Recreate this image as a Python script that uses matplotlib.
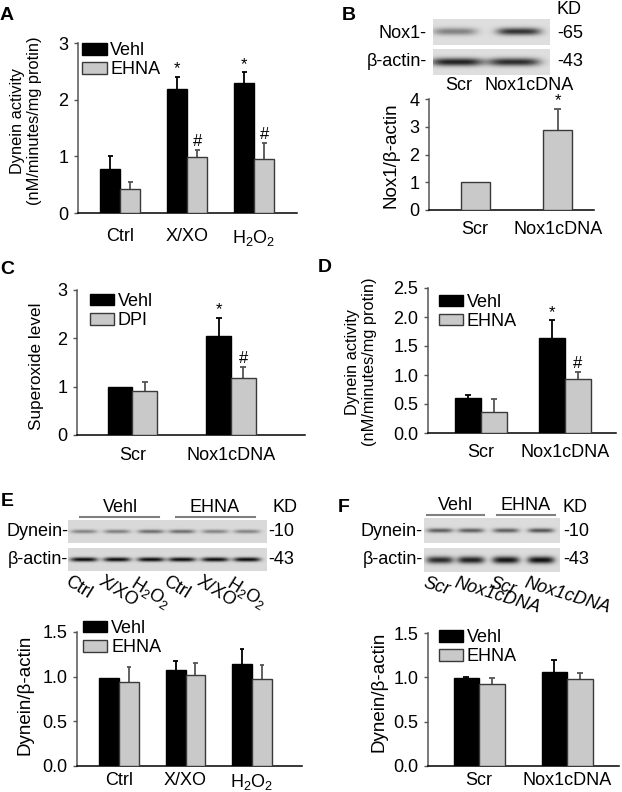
import numpy as np
import matplotlib
matplotlib.use('Agg')
import matplotlib.pyplot as plt
from matplotlib.lines import Line2D

plt.rcParams['font.family'] = ['Liberation Sans', 'DejaVu Sans']
plt.rcParams['mathtext.fontset'] = 'custom'
plt.rcParams['mathtext.rm'] = 'Liberation Sans'
plt.rcParams['mathtext.it'] = 'Liberation Sans:italic'
plt.rcParams['mathtext.default'] = 'regular'

W, H = 622, 792
FS = 13      # general text size
YFS = 11.8   # two-line y axis titles

# ---- panel A: dynein activity, X/XO and H2O2 ----
a_groups = ['Ctrl', 'X/XO', 'H$_2$O$_2$']
a_vehl = [0.78, 2.18, 2.29]
a_vehl_top = [1.00, 2.40, 2.48]
a_vehl_mark = ['', '*', '*']
a_ehna = [0.42, 0.98, 0.96]
a_ehna_top = [0.55, 1.12, 1.24]
a_ehna_mark = ['', '#', '#']

# ---- panel B: Nox1 blot and ratio ----
b_groups = ['Scr', 'Nox1cDNA']
b_ratio = [1.0, 2.87]
b_ratio_top = [1.0, 3.64]
b_ratio_mark = ['', '*']
b_blot_nox1 = [0.42, 0.78]
b_blot_actin = [0.85, 0.80]

# ---- panel C: superoxide ----
c_groups = ['Scr', 'Nox1cDNA']
c_vehl = [1.0, 2.05]
c_vehl_top = [1.0, 2.43]
c_vehl_mark = ['', '*']
c_dpi = [0.90, 1.17]
c_dpi_top = [1.09, 1.41]
c_dpi_mark = ['', '#']

# ---- panel D: dynein activity, Nox1 ----
d_groups = ['Scr', 'Nox1cDNA']
d_vehl = [0.60, 1.63]
d_vehl_top = [0.65, 1.94]
d_vehl_mark = ['', '*']
d_ehna = [0.37, 0.93]
d_ehna_top = [0.59, 1.05]
d_ehna_mark = ['', '#']

# ---- panel E: dynein/actin ----
e_groups = ['Ctrl', 'X/XO', 'H$_2$O$_2$']
e_vehl = [0.98, 1.08, 1.14]
e_vehl_top = [0.98, 1.18, 1.31]
e_ehna = [0.94, 1.02, 0.97]
e_ehna_top = [1.11, 1.15, 1.13]
e_lanes = ['Ctrl', 'X/XO', 'H$_2$O$_2$', 'Ctrl', 'X/XO', 'H$_2$O$_2$']
e_blot_dynein = [0.38, 0.40, 0.48, 0.48, 0.38, 0.38]
e_blot_actin = [0.92, 0.92, 0.92, 0.92, 0.92, 0.92]

# ---- panel F: dynein/actin, Nox1 ----
f_groups = ['Scr', 'Nox1cDNA']
f_vehl = [0.99, 1.06]
f_vehl_top = [1.00, 1.20]
f_ehna = [0.92, 0.98]
f_ehna_top = [0.99, 1.05]
f_lanes = ['Scr', 'Nox1cDNA', 'Scr', 'Nox1cDNA']
f_blot_dynein = [0.55, 0.55, 0.55, 0.60]
f_blot_actin = [0.80, 0.85, 0.90, 0.92]

BLACK = '#000000'
GRAY = '#c9c9c9'

fig = plt.figure(figsize=(W / 100, H / 100), dpi=100)


def box(l, t, r, b):
    return [l / W, 1 - b / H, (r - l) / W, (b - t) / H]


def ftext(x, y, s, **kw):
    kw.setdefault('fontsize', FS)
    fig.text(x / W, 1 - y / H, s, **kw)


def hline(x0, x1, y):
    fig.add_artist(Line2D([x0 / W, x1 / W], [1 - y / H, 1 - y / H],
                          color='#808080', lw=1.5))


def bar_panel(rect, groups, series, ylim, yticks, ylabels, xlim, width,
              legend_at=None, xpad=6):
    ax = fig.add_axes(box(*rect))
    x = np.arange(len(groups))
    n = len(series)
    handles, names = [], []
    for i, (vals, tops, marks, face, name) in enumerate(series):
        pos = x + (i - (n - 1) / 2) * width
        edge = BLACK if face == BLACK else '#3a3a3a'
        ecol = BLACK if face == BLACK else '#555555'
        bars = ax.bar(pos, vals, width, color=face, edgecolor=edge,
                      linewidth=1.0, zorder=3)
        handles.append(bars)
        names.append(name)
        cap = width * 0.12
        for p, v, t in zip(pos, vals, tops):
            if t > v:
                ax.vlines(p, v, t, color=ecol, lw=1.3, zorder=2)
                ax.hlines(t, p - cap, p + cap, color=ecol, lw=1.3, zorder=2)
        if marks:
            for p, t, m in zip(pos, tops, marks):
                if m:
                    ax.annotate(m, (p, t), xytext=(0, 0.5),
                                textcoords='offset points', ha='center',
                                va='bottom', fontsize=12)
    ax.set_xlim(*xlim)
    ax.set_ylim(*ylim)
    ax.set_xticks(x)
    ax.set_xticklabels(groups, fontsize=FS)
    ax.set_yticks(yticks)
    ax.set_yticklabels(ylabels, fontsize=FS)
    ax.tick_params(axis='x', length=0, pad=xpad)
    ax.tick_params(axis='y', direction='out', length=3, width=1,
                   color='#555555', pad=4)
    for s in ['top', 'right']:
        ax.spines[s].set_visible(False)
    ax.spines['left'].set_color('#555555')
    ax.spines['left'].set_linewidth(1.1)
    ax.spines['bottom'].set_linewidth(1.1)
    if legend_at is not None:
        ax.legend(handles, names, loc='upper left', bbox_to_anchor=legend_at,
                  frameon=False, fontsize=FS, handlelength=1.35,
                  handleheight=0.62, handletextpad=0.2, labelspacing=0.12,
                  borderpad=0, borderaxespad=0)
    return ax


def blot(rect, lane_x, intens, band_w, band_h, bg=0.86):
    l, t, r, b = rect
    w, h = int(r - l), int(b - t)
    xx = np.arange(w)[None, :] + 0.5
    yy = np.arange(h)[:, None] + 0.5
    img = np.full((h, w), bg)
    for cx, v in zip(lane_x, intens):
        px = np.exp(-np.abs((xx - (cx - l)) / (band_w / 2)) ** 4)
        py = np.exp(-((yy - h / 2) / band_h) ** 2)
        img = img - v * bg * px * py
    ax = fig.add_axes(box(*rect))
    ax.imshow(np.clip(img, 0, 1), cmap='gray', vmin=0, vmax=1,
              aspect='auto', interpolation='bilinear')
    ax.axis('off')


# ================= A =================
bar_panel((78, 43, 297, 213), a_groups,
          [(a_vehl, a_vehl_top, a_vehl_mark, BLACK, 'Vehl'),
           (a_ehna, a_ehna_top, a_ehna_mark, GRAY, 'EHNA')],
          (0, 3), [0, 1, 2, 3], ['0', '1', '2', '3'], (-0.63, 2.64), 0.3,
          legend_at=(0.02, 1.005), xpad=11)
ftext(26, 121, 'Dynein activity\n(nM/minutes/mg protin)', fontsize=YFS,
      rotation=90, ha='center', va='center', linespacing=1.15)
ftext(7, 16, 'A', fontsize=14, fontweight='bold', ha='center', va='center')

# ================= B =================
blot((433, 19, 550, 45), [455, 519], b_blot_nox1, 44, 3.5, bg=0.87)
blot((433, 49, 550, 75), [457, 514], b_blot_actin, 52, 4.0, bg=0.87)
ftext(427, 33, 'Nox1-', ha='right', va='center')
ftext(427, 62, 'β-actin-', ha='right', va='center')
ftext(557, 33, '-65', ha='left', va='center')
ftext(557, 62, '-43', ha='left', va='center')
ftext(557, 9, 'KD', ha='left', va='center')
ftext(459, 86, 'Scr', ha='center', va='center')
ftext(529, 86, 'Nox1cDNA', ha='center', va='center')
bar_panel((429, 99, 594, 210), b_groups,
          [(b_ratio, b_ratio_top, b_ratio_mark, GRAY, 'Nox1')],
          (0, 4), [0, 1, 2, 3, 4], ['0', '1', '2', '3', '4'],
          (-0.56, 1.44), 0.35, xpad=8)
ftext(391, 155, 'Nox1/β-actin', fontsize=13.5, rotation=90,
      ha='center', va='center')
ftext(349, 15, 'B', fontsize=14, fontweight='bold', ha='center', va='center')

# ================= C =================
bar_panel((77, 290, 305, 435), c_groups,
          [(c_vehl, c_vehl_top, c_vehl_mark, BLACK, 'Vehl'),
           (c_dpi, c_dpi_top, c_dpi_mark, GRAY, 'DPI')],
          (0, 3), [0, 1, 2, 3], ['0', '1', '2', '3'], (-0.56, 1.75), 0.25,
          legend_at=(0.055, 0.98), xpad=9)
ftext(37, 366, 'Superoxide level', fontsize=12.3, rotation=90,
      ha='center', va='center')
ftext(7, 270, 'C', fontsize=14, fontweight='bold', ha='center', va='center')

# ================= D =================
bar_panel((428, 288, 616, 433), d_groups,
          [(d_vehl, d_vehl_top, d_vehl_mark, BLACK, 'Vehl'),
           (d_ehna, d_ehna_top, d_ehna_mark, GRAY, 'EHNA')],
          (0, 2.5), [0, 0.5, 1.0, 1.5, 2.0, 2.5],
          ['0.0', '0.5', '1.0', '1.5', '2.0', '2.5'], (-0.63, 1.61), 0.31,
          legend_at=(0.058, 0.96), xpad=8)
ftext(361, 362, 'Dynein activity\n(nM/minutes/mg protin)', fontsize=YFS,
      rotation=90, ha='center', va='center', linespacing=1.15)
ftext(325, 268, 'D', fontsize=14, fontweight='bold', ha='center', va='center')

# ================= E =================
ftext(7, 502, 'E', fontsize=14, fontweight='bold', ha='center', va='center')
hline(80, 159, 517)
hline(176, 255, 517)
ftext(120, 507, 'Vehl', ha='center', va='center')
ftext(215, 507, 'EHNA', ha='center', va='center')
ftext(272, 507, 'KD', ha='left', va='center')
e_lane_x = [84, 117, 151, 182, 215, 247]
blot((68, 520, 267, 543), e_lane_x, e_blot_dynein, 26, 2.0, bg=0.85)
blot((68, 548, 267, 571), e_lane_x, e_blot_actin, 27, 2.2, bg=0.85)
ftext(68, 532, 'Dynein-', ha='right', va='center')
ftext(68, 559, 'β-actin-', ha='right', va='center')
ftext(268, 532, '-10', ha='left', va='center')
ftext(268, 559, '-43', ha='left', va='center')
for lx, lab in zip(e_lane_x, e_lanes):
    ftext(lx - 13, 573, lab, rotation=-32, rotation_mode='anchor',
          ha='left', va='top')
bar_panel((77, 632, 302, 766), e_groups,
          [(e_vehl, e_vehl_top, None, BLACK, 'Vehl'),
           (e_ehna, e_ehna_top, None, GRAY, 'EHNA')],
          (0, 1.5), [0, 0.5, 1.0, 1.5], ['0.0', '0.5', '1.0', '1.5'],
          (-0.63, 2.75), 0.3, legend_at=(0.027, 1.09), xpad=4)
ftext(25, 695, 'Dynein/β-actin', fontsize=13.5, rotation=90,
      ha='center', va='center')

# ================= F =================
ftext(344, 507, 'F', fontsize=14, fontweight='bold', ha='center', va='center')
hline(427, 484, 515)
hline(497, 555, 515)
ftext(455, 506, 'Vehl', ha='center', va='center')
ftext(526, 506, 'EHNA', ha='center', va='center')
ftext(563, 507, 'KD', ha='left', va='center')
f_lane_x = [440, 471, 506, 541]
blot((424, 518, 560, 543), f_lane_x, f_blot_dynein, 26, 2.3, bg=0.86)
blot((424, 548, 560, 572), f_lane_x, f_blot_actin, 27, 3.6, bg=0.86)
ftext(423, 532, 'Dynein-', ha='right', va='center')
ftext(423, 560, 'β-actin-', ha='right', va='center')
ftext(563, 532, '-10', ha='left', va='center')
ftext(563, 560, '-43', ha='left', va='center')
for lx, lab in zip(f_lane_x, f_lanes):
    ftext(lx - 14, 575, lab, rotation=-17, rotation_mode='anchor',
          ha='left', va='top', style='italic')
bar_panel((428, 633, 619, 766), f_groups,
          [(f_vehl, f_vehl_top, None, BLACK, 'Vehl'),
           (f_ehna, f_ehna_top, None, GRAY, 'EHNA')],
          (0, 1.5), [0, 0.5, 1.0, 1.5], ['0.0', '0.5', '1.0', '1.5'],
          (-0.58, 1.59), 0.29, legend_at=(0.057, 1.03), xpad=4)
ftext(379, 692, 'Dynein/β-actin', fontsize=13.5, rotation=90,
      ha='center', va='center')

fig.savefig('out.png', dpi=100)
